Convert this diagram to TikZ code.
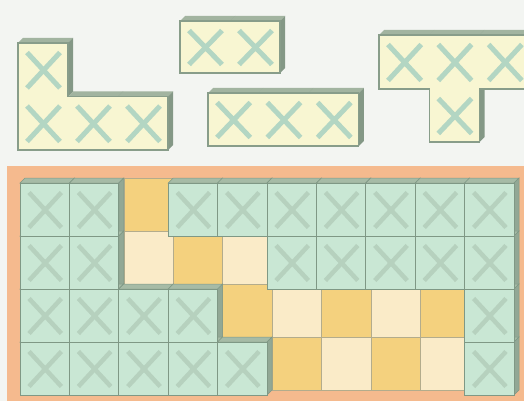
\documentclass[tikz,border=0pt]{standalone}
\definecolor{bgc}{HTML}{F3F5F2}
\definecolor{pfacec}{HTML}{F8F6D2}
\definecolor{ptopc}{HTML}{A2B4A0}
\definecolor{prightc}{HTML}{849886}
\definecolor{plinec}{HTML}{889D8A}
\definecolor{pxc}{HTML}{B3D6C3}
\definecolor{orangec}{HTML}{F5BA8E}
\definecolor{bfacec}{HTML}{C9E7D4}
\definecolor{btopc}{HTML}{A6BBA6}
\definecolor{brightc}{HTML}{92A895}
\definecolor{blinec}{HTML}{7F9885}
\definecolor{bxc}{HTML}{B6D1BE}
\definecolor{darkc}{HTML}{F4D17E}
\definecolor{lightc}{HTML}{FAEBC8}
\definecolor{flinec}{HTML}{B3AC8C}
\tikzset{
 ptop/.style={fill=ptopc},
 pright/.style={fill=prightc},
 pface/.style={fill=pfacec},
 pout/.style={draw=plinec,line width=1.1pt,line join=miter},
 pxm/.style={draw=pxc,line width=5pt},
 btop/.style={fill=btopc,draw=blinec,line width=0.5pt},
 bright/.style={fill=brightc,draw=blinec,line width=0.5pt},
 bface/.style={fill=bfacec,draw=blinec,line width=0.9pt},
 bxm/.style={draw=bxc,line width=4.5pt},
 dfloor/.style={fill=darkc,draw=flinec,line width=0.5pt},
 lfloor/.style={fill=lightc,draw=flinec,line width=0.5pt},
}
\newcommand\extr{5}
\newcommand\sidesof[6]{%
  \path[#5] (#1,#2) -- ++(\extr,-\extr) -- ++(#3,0) -- ++(-\extr,\extr) -- cycle;
  \path[#6] (#1+#3,#2) -- ++(\extr,-\extr) -- ++(0,#4) -- ++(-\extr,\extr) -- cycle;}
\newcommand\frontof[6]{%
  \path[#5] (#1,#2) rectangle ++(#3,#4);
  \path[#6] (#1+9,#2+9.5) -- (#1+#3-8,#2+#4-8.5) (#1+#3-8,#2+9.5) -- (#1+9,#2+#4-8.5);}
\begin{document}
\begin{tikzpicture}[x=1pt,y=-1pt]
\useasboundingbox (0,0) rectangle (524,401);
\clip (0,0) rectangle (524,401);
\fill[bgc] (0,0) rectangle (524,401);

% ---------- L piece ----------
\sidesof{18}{43}{50}{53.5}{ptop}{pright}
\sidesof{68}{96.5}{50}{53.5}{ptop}{pright}
\sidesof{118}{96.5}{50}{53.5}{ptop}{pright}
\frontof{18}{43}{50}{53.5}{pface}{pxm}
\frontof{18}{96.5}{50}{53.5}{pface}{pxm}
\frontof{68}{96.5}{50}{53.5}{pface}{pxm}
\frontof{118}{96.5}{50}{53.5}{pface}{pxm}
\draw[pout] (18,43) -- (68,43) -- (68,96.5) -- (168,96.5) -- (168,150) -- (18,150) -- cycle;

% ---------- domino ----------
\sidesof{180}{21}{50}{52}{ptop}{pright}
\sidesof{230}{21}{50}{52}{ptop}{pright}
\frontof{180}{21}{50}{52}{pface}{pxm}
\frontof{230}{21}{50}{52}{pface}{pxm}
\draw[pout] (180,21) rectangle (280,73);

% ---------- I3 piece ----------
\sidesof{208}{93}{50.3}{53}{ptop}{pright}
\sidesof{258.3}{93}{50.3}{53}{ptop}{pright}
\sidesof{308.6}{93}{50.3}{53}{ptop}{pright}
\frontof{208}{93}{50.3}{53}{pface}{pxm}
\frontof{258.3}{93}{50.3}{53}{pface}{pxm}
\frontof{308.6}{93}{50.3}{53}{pface}{pxm}
\draw[pout] (208,93) rectangle (358.9,146);

% ---------- T piece ----------
\sidesof{379}{35}{50.3}{54}{ptop}{pright}
\sidesof{429.3}{35}{50.3}{54}{ptop}{pright}
\sidesof{479.6}{35}{50.3}{54}{ptop}{pright}
\sidesof{429.3}{89}{50.3}{53}{ptop}{pright}
\frontof{379}{35}{50.3}{54}{pface}{pxm}
\frontof{429.3}{35}{50.3}{54}{pface}{pxm}
\frontof{479.6}{35}{50.3}{54}{pface}{pxm}
\frontof{429.3}{89}{50.3}{53}{pface}{pxm}
\draw[pout] (379,35) -- (529.9,35) -- (529.9,89) -- (479.6,89) -- (479.6,142) -- (429.3,142) -- (429.3,89) -- (379,89) -- cycle;

% ---------- board ----------
\fill[orangec] (7,166) rectangle (540,420);
\foreach \c/\r in {2/0,3/1,4/2,6/2,8/2,5/3,7/3}{%
  \pgfmathsetmacro\xx{25+\c*49.4}\pgfmathsetmacro\yy{178+\r*53}%
  \path[dfloor] (\xx,\yy) rectangle ++(49.4,53);}
\foreach \c/\r in {2/1,4/1,5/2,7/2,6/3,8/3}{%
  \pgfmathsetmacro\xx{25+\c*49.4}\pgfmathsetmacro\yy{178+\r*53}%
  \path[lfloor] (\xx,\yy) rectangle ++(49.4,53);}
\foreach \c/\r in {0/0,1/0,3/0,4/0,5/0,6/0,7/0,8/0,9/0,
                   0/1,1/1,5/1,6/1,7/1,8/1,9/1,
                   0/2,1/2,2/2,3/2,9/2,
                   0/3,1/3,2/3,3/3,4/3,9/3}{%
  \pgfmathsetmacro\xx{20+\c*49.4}\pgfmathsetmacro\yy{183+\r*53}%
  \sidesof{\xx}{\yy}{49.4}{53}{btop}{bright}}
\foreach \c/\r in {0/0,1/0,3/0,4/0,5/0,6/0,7/0,8/0,9/0,
                   0/1,1/1,5/1,6/1,7/1,8/1,9/1,
                   0/2,1/2,2/2,3/2,9/2,
                   0/3,1/3,2/3,3/3,4/3,9/3}{%
  \pgfmathsetmacro\xx{20+\c*49.4}\pgfmathsetmacro\yy{183+\r*53}%
  \frontof{\xx}{\yy}{49.4}{53}{bface}{bxm}}
\end{tikzpicture}
\end{document}
